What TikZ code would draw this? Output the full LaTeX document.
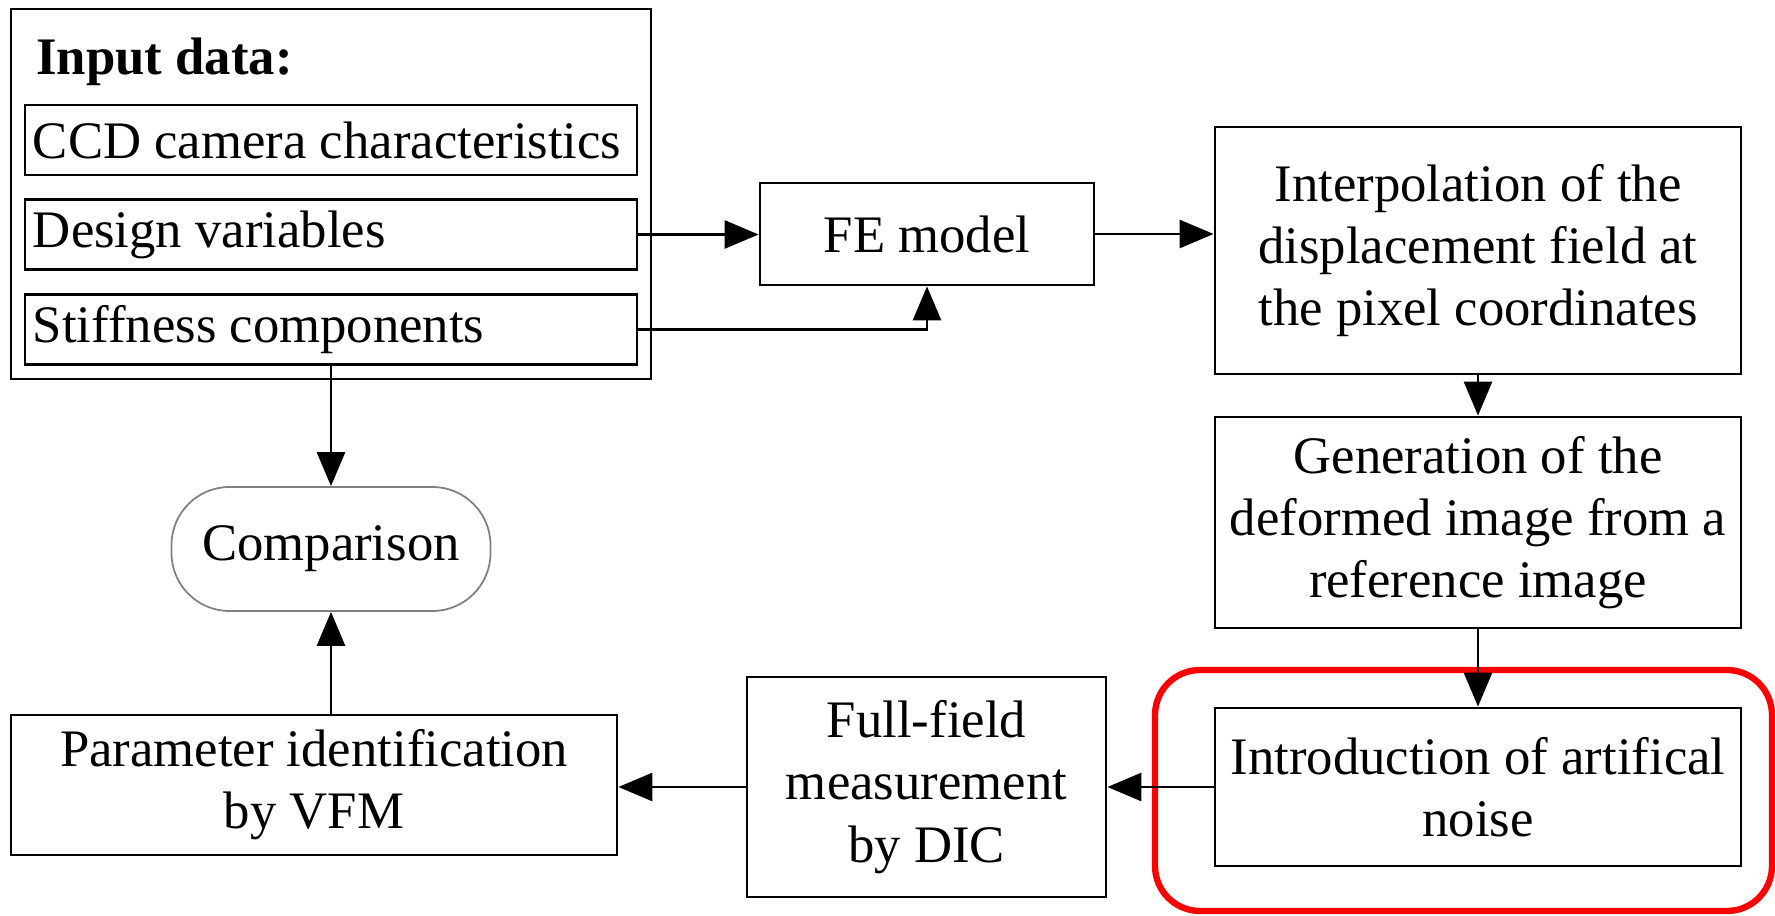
\documentclass[tikz,border=0pt]{standalone}
\usepackage{fontspec}
\setmainfont{Liberation Serif}
\usetikzlibrary{arrows.meta}

\begin{document}
\begin{tikzpicture}[
every node/.style={font=\fontsize{15}{17.7}\selectfont},
box/.style={draw, line width=0.8pt, rectangle, align=flush center, inner sep=0pt},
inbox/.style={draw, line width=0.8pt, rectangle, minimum width=6.12cm, minimum height=0.70cm, text width=5.96cm, align=flush left, inner xsep=0.08cm, inner ysep=0pt},
arr/.style={-{Triangle[length=0.34cm,width=0.28cm]}, line width=0.8pt}
]
\useasboundingbox (0,0) rectangle (17.75,-9.16);
\node[box, minimum width=6.40cm, minimum height=3.70cm] (input) at (3.31,-1.94) {};
\node[anchor=west, font=\fontsize{15}{17.7}\selectfont\bfseries] (title) at (0.24,-0.62) {Input data:};
\node[inbox] (ccd) at (3.31,-1.40) {CCD camera characteristics};
\node[inbox] (design) at (3.31,-2.345) {Design variables};
\node[inbox] (stiff) at (3.31,-3.295) {Stiffness components};
\node[box, minimum width=3.34cm, minimum height=1.02cm] (fe) at (9.27,-2.34) {FE model};
\node[box, minimum width=5.26cm, minimum height=2.47cm] (interp) at (14.78,-2.505) {Interpolation of the\\displacement field at\\the pixel coordinates};
\node[box, minimum width=5.26cm, minimum height=2.11cm] (gen) at (14.78,-5.225) {Generation of the\\deformed image from a\\reference image};
\node[box, minimum width=5.26cm, minimum height=1.58cm] (intro) at (14.78,-7.87) {Introduction of artifical\\noise};
\node[draw=red, line width=1.8pt, rounded corners=0.45cm, minimum width=6.17cm, minimum height=2.41cm] (hl) at (14.635,-7.905) {};
\node[box, minimum width=3.59cm, minimum height=2.20cm] (full) at (9.265,-7.87) {Full-field\\measurement\\by DIC};
\node[box, minimum width=6.06cm, minimum height=1.40cm] (param) at (3.14,-7.85) {Parameter identification\\by VFM};
\node[draw=gray, line width=0.5pt, rounded corners=0.58cm, minimum width=3.19cm, minimum height=1.24cm] (comp) at (3.31,-5.49) {Comparison};

\draw[arr] (design.east) -- (design.east -| fe.west);
\draw[arr] (stiff.east) -| (fe.south);
\draw[arr] (fe.east) -- (fe.east -| interp.west);
\draw[arr] (interp) -- (gen);
\draw[arr] (gen) -- (intro);
\draw[arr] (intro.west) -- (intro.west -| full.east);
\draw[arr] (full.west) -- (full.west -| param.east);
\draw[arr] (stiff) -- (comp);
\draw[arr] (param.north -| comp.south) -- (comp.south);
\end{tikzpicture}
\end{document}
